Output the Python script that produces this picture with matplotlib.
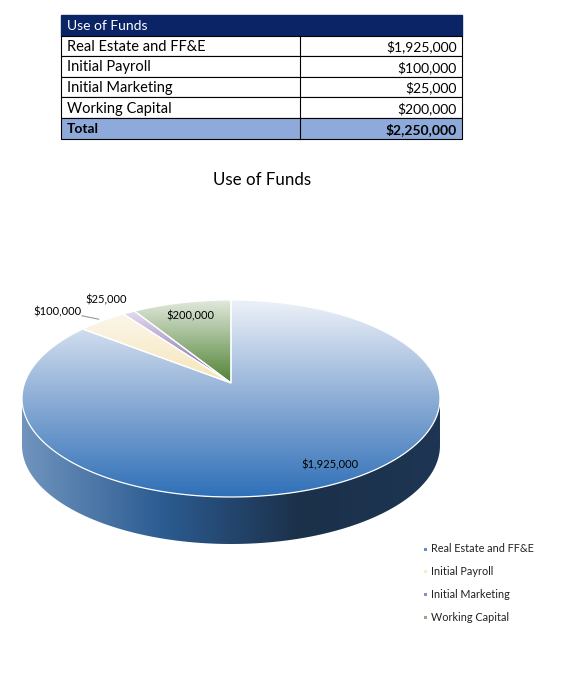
import numpy as np
import matplotlib
matplotlib.use("Agg")
import matplotlib.pyplot as plt
from matplotlib.colors import LinearSegmentedColormap
from matplotlib.patches import Polygon, Rectangle

# ---------------- data ----------------
categories = ["Real Estate and FF&E", "Initial Payroll", "Initial Marketing", "Working Capital"]
values = [1925000, 100000, 25000, 200000]
value_labels = ["$1,925,000", "$100,000", "$25,000", "$200,000"]
table_title = "Use of Funds"
total_label = "Total"
total_value = "$2,250,000"
chart_title = "Use of Funds"

# ---------------- style ----------------
FONT = ["Lato", "DejaVu Sans"]
plt.rcParams["font.family"] = FONT
top_grad = [["#eef2f9", "#8eaed6", "#2f70b8"],
            ["#fbf6ea", "#f5e6b8"],
            ["#e4dcee", "#7a5ca8"],
            ["#e3eadf", "#4f8233"]]
side_grad = [["#7094be", "#2c5c92", "#1b3049", "#1e3654"],
             ["#d8c890", "#8f7f4c"],
             ["#8f77b5", "#4a3470"],
             ["#6f9a55", "#2f5220"]]
legend_colors = ["#5f8fca", "#f6ecc8", "#9b86c4", "#8fae80"]
label_r = [0.86, 1.27, 1.22, 0.81]
label_da = [3.6, 4.7, 1.0, 0.0]

W, H = 567, 686
# perspective geometry of the tilted disc (pixels)
CX, CY = 231, 383      # apex
SX, KY, E = 206.4, 96.1, 0.157
DEPTH = 47


def proj(x, y):
    d = 1 + E * y
    return CX + SX * x / d, CY - KY * y / d


fig = plt.figure(figsize=(W / 100, H / 100), dpi=100)

# ---------------- table (pixel overlay) ----------------
tab = fig.add_axes([0, 0, 1, 1])
tab.set_xlim(0, W)
tab.set_ylim(H, 0)
tab.axis("off")
x0, xm, x1 = 61, 300, 462
row_h = 20.6
y = 15
tab.add_patch(Rectangle((x0, y), x1 - x0, row_h, facecolor="#0b2466", edgecolor="#0b2466", lw=1))
tab.text(x0 + 6, y + row_h / 2 + 1, table_title, color="white", fontsize=10, va="center", ha="left")
y += row_h
for cat, vl in zip(categories, value_labels):
    tab.add_patch(Rectangle((x0, y), x1 - x0, row_h, facecolor="white", edgecolor="black", lw=0.8))
    tab.plot([xm, xm], [y, y + row_h], color="black", lw=0.8)
    tab.text(x0 + 6, y + row_h / 2 + 1, cat, color="black", fontsize=10.5, va="center", ha="left")
    tab.text(x1 - 5, y + row_h / 2 + 1, vl, color="black", fontsize=10, va="center", ha="right")
    y += row_h
tab.add_patch(Rectangle((x0, y), x1 - x0, row_h, facecolor="#8eaadb", edgecolor="black", lw=0.8))
tab.plot([xm, xm], [y, y + row_h], color="black", lw=0.8)
tab.text(x0 + 6, y + row_h / 2 + 1, total_label, color="black", fontsize=10, fontweight="bold", va="center", ha="left")
tab.text(x1 - 5, y + row_h / 2 + 1, total_value, color="black", fontsize=10, fontweight="bold", va="center", ha="right")

tab.text(262, 180, chart_title, fontsize=12.2, ha="center", va="center", color="black")

# ---------------- 3D-looking pie ----------------
ax = fig.add_axes([0, 0, 1, 1])
wedges, _ = ax.pie(values, startangle=90, counterclock=False, radius=1, center=(0, 0))
ax.set_aspect("auto")
ax.set_xlim(0, W)
ax.set_ylim(H, 0)
ax.axis("off")

a_edge = np.degrees(np.arcsin(E))
front_lo, front_hi = 180 + a_edge, 360 - a_edge

for i, w in enumerate(wedges):
    w.set_visible(False)
    # side wall: part of the wedge rim that faces the viewer
    t1 = w.theta1 % 360
    t2 = t1 + (w.theta2 - w.theta1)
    for off in (0, 360, -360):
        a, b = max(t1 + off, front_lo), min(t2 + off, front_hi)
        if b <= a:
            continue
        t = np.radians(np.linspace(a, b, 200))
        xs, ys = proj(np.cos(t), np.sin(t))
        poly = np.vstack([np.column_stack([xs, ys]),
                          np.column_stack([xs[::-1], ys[::-1] + DEPTH])])
        pg = Polygon(poly, closed=True, facecolor="none", edgecolor="none")
        ax.add_patch(pg)
        cmap = LinearSegmentedColormap.from_list("s%d" % i, side_grad[i])
        grad = np.linspace(0, 1, 256).reshape(1, -1)
        im = ax.imshow(grad, cmap=cmap, aspect="auto", origin="upper",
                       extent=(xs.min(), xs.max(), ys.max() + DEPTH, ys.min()), zorder=0.5)
        im.set_clip_path(pg)
    # top face
    t = np.radians(np.linspace(w.theta1, w.theta2, 240))
    ux = np.concatenate([[0], np.cos(t)])
    uy = np.concatenate([[0], np.sin(t)])
    px, py = proj(ux, uy)
    top = Polygon(np.column_stack([px, py]), closed=True, facecolor="none",
                  edgecolor="white", linewidth=0.9, zorder=2)
    ax.add_patch(top)
    cmap = LinearSegmentedColormap.from_list("t%d" % i, top_grad[i])
    grad = np.linspace(0, 1, 256).reshape(-1, 1)
    im = ax.imshow(grad, cmap=cmap, aspect="auto", origin="upper",
                   extent=(px.min(), px.max(), py.max(), py.min()), zorder=1.5)
    im.set_clip_path(top)

# labels
for i, w in enumerate(wedges):
    mid = np.radians((w.theta1 + w.theta2) / 2 + label_da[i])
    lx, ly = proj(label_r[i] * np.cos(mid), label_r[i] * np.sin(mid))
    ax.text(lx, ly, value_labels[i], fontsize=8, ha="center", va="center", color="black", zorder=5)
    if label_r[i] > 1.25:
        m0 = np.radians((w.theta1 + w.theta2) / 2)
        ex, ey = proj(1.03 * np.cos(m0), 1.03 * np.sin(m0))
        ax.plot([lx + 25, ex], [ly + 4, ey], color="#999999", lw=0.8, zorder=4)

ax.set_xlim(0, W)
ax.set_ylim(H, 0)

# legend (pixel overlay)
for j, cat in enumerate(categories):
    yy = 549 + j * 22.7
    tab.add_patch(Rectangle((423.5, yy - 1.5), 3, 3, facecolor=legend_colors[j], edgecolor="none"))
    tab.text(431, yy, cat, fontsize=7.8, ha="left", va="center", color="#222222")

fig.savefig("out.png", dpi=100)
